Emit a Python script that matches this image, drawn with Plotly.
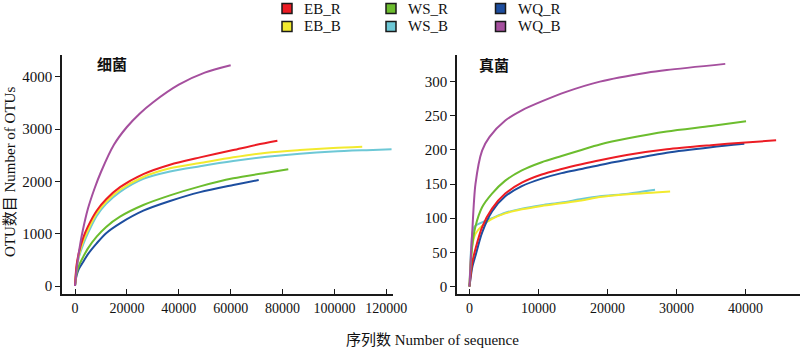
import plotly.graph_objects as go

# ---------------- data ----------------
names = ["EB_R", "EB_B", "WS_R", "WS_B", "WQ_R", "WQ_B"]
colors = {"EB_R": "#EC1C24", "EB_B": "#F2EA2E", "WS_R": "#6CBD2E",
          "WS_B": "#6DC8D6", "WQ_R": "#1D4E9F", "WQ_B": "#A54F9E"}

# Bacteria (细菌)
bac_EB_R_x = [0, 600, 1500, 3200, 5000, 8350, 12000, 17350, 26340, 36620, 48190, 61000, 70000, 78000]
bac_EB_R_y = [0, 400, 640, 930, 1140, 1440, 1660, 1890, 2140, 2320, 2460, 2600, 2700, 2778]
bac_EB_B_x = [0, 600, 1500, 3200, 5000, 8350, 12000, 17350, 26340, 36620, 48190, 61000, 73900, 86700, 99500, 110700]
bac_EB_B_y = [0, 360, 590, 860, 1070, 1390, 1610, 1840, 2085, 2250, 2350, 2460, 2549, 2600, 2639, 2663]
bac_WS_R_x = [0, 600, 1500, 3200, 5000, 8350, 12000, 17350, 26340, 36620, 48190, 61000, 73900, 82200]
bac_WS_R_y = [0, 230, 390, 561, 720, 943, 1130, 1326, 1549, 1733, 1905, 2059, 2166, 2231]
bac_WS_B_x = [0, 600, 1500, 3200, 5000, 8350, 12000, 17350, 26340, 36620, 48190, 61000, 73900, 86700, 99500, 112400, 122000]
bac_WS_B_y = [0, 330, 550, 800, 1010, 1340, 1570, 1800, 2050, 2190, 2290, 2390, 2470, 2530, 2572, 2598, 2614]
bac_WQ_R_x = [0, 600, 1500, 3200, 5000, 8350, 12000, 17350, 26340, 36620, 48190, 61000, 70800]
bac_WQ_R_y = [0, 200, 330, 465, 610, 816, 1010, 1198, 1440, 1625, 1795, 1931, 2027]
bac_WQ_B_x = [0, 500, 1000, 2000, 3000, 5000, 7500, 10000, 15000, 20000, 25000, 30000, 40000, 50000, 60000]
bac_WQ_B_y = [0, 260, 470, 800, 1060, 1480, 1860, 2180, 2700, 3040, 3300, 3510, 3850, 4080, 4220]

# Fungi (真菌)
fun_EB_R_x = [0, 400, 864, 1824, 3264, 5184, 7584, 10464, 13344, 16224, 18900, 23000, 28590, 35000, 40000, 44430]
fun_EB_R_y = [0, 35, 55, 87, 114, 136, 152, 164, 172, 179, 185, 193, 201, 207, 211, 214]
fun_EB_B_x = [0, 200, 400, 864, 1824, 3264, 5184, 7584, 10464, 13344, 16224, 18900, 23000, 26890, 29070]
fun_EB_B_y = [0, 40, 60, 77, 89, 99, 107, 113, 118, 122, 126, 131, 135, 137.5, 139]
fun_WS_R_x = [0, 400, 864, 1824, 3264, 5184, 7584, 10464, 13344, 16224, 18900, 23000, 28590, 35000, 40070]
fun_WS_R_y = [0, 60, 88, 116, 136, 155, 170, 182, 191, 200, 208, 217, 227, 235, 242]
fun_WS_B_x = [0, 200, 400, 624, 864, 1824, 3264, 5184, 7584, 10464, 13344, 16224, 18900, 23000, 26890]
fun_WS_B_y = [0, 50, 77, 86, 89, 94, 100, 108, 114, 119, 123, 128, 132, 136, 141.5]
fun_WQ_R_x = [0, 400, 864, 1824, 3264, 5184, 7584, 10464, 13344, 16224, 18900, 23000, 28590, 35000, 39820]
fun_WQ_R_y = [0, 28, 45, 79, 110, 132, 147, 158, 166, 172, 178, 186, 196, 204, 209]
fun_WQ_B_x = [0, 150, 384, 864, 1824, 2907, 5184, 7584, 10464, 14000, 18900, 25690, 28590, 37060]
fun_WQ_B_y = [0, 35, 77, 150, 199, 219, 243, 258, 271, 285, 300, 313, 317, 326]

bacteria = {"EB_R": (bac_EB_R_x, bac_EB_R_y), "EB_B": (bac_EB_B_x, bac_EB_B_y),
            "WS_R": (bac_WS_R_x, bac_WS_R_y), "WS_B": (bac_WS_B_x, bac_WS_B_y),
            "WQ_R": (bac_WQ_R_x, bac_WQ_R_y), "WQ_B": (bac_WQ_B_x, bac_WQ_B_y)}
fungi = {"EB_R": (fun_EB_R_x, fun_EB_R_y), "EB_B": (fun_EB_B_x, fun_EB_B_y),
         "WS_R": (fun_WS_R_x, fun_WS_R_y), "WS_B": (fun_WS_B_x, fun_WS_B_y),
         "WQ_R": (fun_WQ_R_x, fun_WQ_R_y), "WQ_B": (fun_WQ_B_x, fun_WQ_B_y)}

bac_xticks = [0, 20000, 40000, 60000, 80000, 100000, 120000]
bac_yticks = [0, 1000, 2000, 3000, 4000]
fun_xticks = [0, 10000, 20000, 30000, 40000]
fun_yticks = [0, 50, 100, 150, 200, 250, 300]

# legend layout: columns and rows of keys
legend_cols = [["EB_R", "EB_B"], ["WS_R", "WS_B"], ["WQ_R", "WQ_B"]]

# ---------------- figure ----------------
W, H = 800, 348
MT, MB = 55, 54
PH = H - MT - MB
SERIF = "Liberation Serif, Times New Roman, Noto Sans CJK SC, serif"
fig = go.Figure()

for n in ["WQ_R", "WS_R", "WS_B", "EB_B", "EB_R", "WQ_B"]:
    x, y = bacteria[n]
    fig.add_trace(go.Scatter(x=x, y=y, mode="lines", name=n,
                             line=dict(color=colors[n], width=2, shape="spline", smoothing=0.8),
                             showlegend=False, xaxis="x", yaxis="y"))
for n in ["WS_B", "EB_B", "WQ_R", "EB_R", "WS_R", "WQ_B"]:
    x, y = fungi[n]
    fig.add_trace(go.Scatter(x=x, y=y, mode="lines", name=n,
                             line=dict(color=colors[n], width=2, shape="spline", smoothing=0.8),
                             showlegend=False, xaxis="x2", yaxis="y2"))


def px_x(px):
    return px / W


def px_y(py):
    return (H - MB - py) / PH


# legend keys (square swatches + text), placed above the plots
shapes, annotations = [], []
col_px = [287, 391, 500.5]
row_py = [8.5, 26.5]
text_top = [0, 17]
half = 5.0
for cx, col in zip(col_px, legend_cols):
    for ry, tt, n in zip(row_py, text_top, col):
        shapes.append(dict(type="rect", xref="paper", yref="paper",
                           x0=px_x(cx - half), x1=px_x(cx + half),
                           y0=px_y(ry + half), y1=px_y(ry - half),
                           fillcolor=colors[n], line=dict(color="#1a1a1a", width=1.5)))
        annotations.append(dict(text=n, x=px_x(cx + 16), y=px_y(tt), xref="paper", yref="paper",
                                showarrow=False, xanchor="left", yanchor="top", borderpad=0,
                                font=dict(family=SERIF, size=15, color="#111")))

axis_common = dict(showline=True, linecolor="#1a1a1a", linewidth=1.5, showgrid=False, zeroline=False,
                   ticklen=5, tickwidth=1.3, tickcolor="#1a1a1a", automargin=False)
xfont = dict(family=SERIF, size=14, color="#111")
yfont = dict(family=SERIF, size=15, color="#111")

annotations += [
    dict(text="<b>细菌</b>", x=112/W, y=0.9665, xref="paper", yref="paper", showarrow=False,
         xanchor="center", yanchor="middle", font=dict(family="Noto Sans CJK SC", size=15, color="#111")),
    dict(text="<b>真菌</b>", x=494/W, y=0.962, xref="paper", yref="paper", showarrow=False,
         xanchor="center", yanchor="middle", font=dict(family="Noto Sans CJK SC", size=15, color="#111")),
    dict(text="OTU数目 Number of OTUs", x=10/W, y=0.51, xref="paper", yref="paper", showarrow=False,
         textangle=-90, xanchor="center", yanchor="middle", font=dict(family=SERIF, size=15, color="#111")),
    dict(text="序列数 Number of sequence", x=432/W, y=px_y(340), xref="paper", yref="paper", showarrow=False,
         xanchor="center", yanchor="middle", font=dict(family=SERIF, size=15, color="#111")),
]

fig.update_layout(
    width=W, height=H,
    margin=dict(l=0, r=0, t=MT, b=MB),
    paper_bgcolor="white", plot_bgcolor="white",
    showlegend=False,
    xaxis=dict(domain=[62/W, 393/W], range=[-5010, 122560], tickvals=bac_xticks,
               ticktext=[str(v) for v in bac_xticks], ticks="inside", tickfont=xfont,
               anchor="y", **axis_common),
    yaxis=dict(domain=[0, 1], range=[-153, 4417], tickvals=bac_yticks,
               ticktext=[str(v) for v in bac_yticks], ticks="outside", tickfont=yfont,
               anchor="x", **axis_common),
    xaxis2=dict(domain=[457/W, 1.0], range=[-1811, 47890], tickvals=fun_xticks,
                ticktext=[str(v) for v in fun_xticks], ticks="inside", tickfont=xfont,
                anchor="y2", **axis_common),
    yaxis2=dict(domain=[0, 1], range=[-11, 339], tickvals=fun_yticks,
                ticktext=[str(v) for v in fun_yticks], ticks="outside", tickfont=yfont,
                anchor="x2", **axis_common),
    shapes=shapes,
    annotations=annotations,
)

fig.write_html("out.html")
